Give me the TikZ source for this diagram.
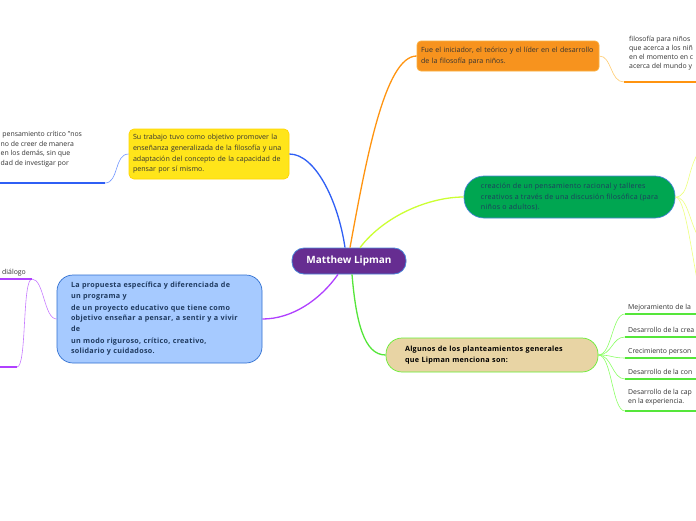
\documentclass[tikz,border=0pt]{standalone}
\usepackage{fontspec}
\setmainfont{Open Sans}
\definecolor{cpurple}{HTML}{662D91}
\definecolor{cborder}{HTML}{4A86D8}
\definecolor{orangeF}{HTML}{F7931E}
\definecolor{orangeB}{HTML}{FBB040}
\definecolor{yellowF}{HTML}{FFE51A}
\definecolor{yellowB}{HTML}{FFD500}
\definecolor{greenF}{HTML}{00A651}
\definecolor{blueF}{HTML}{A6CAFF}
\definecolor{blueB}{HTML}{2F6FD0}
\definecolor{tanF}{HTML}{E8D4A4}
\definecolor{tanB}{HTML}{66EE33}
\definecolor{cBlue}{HTML}{2F5FF5}
\definecolor{cOrange}{HTML}{FF9410}
\definecolor{cLime}{HTML}{CCFF33}
\definecolor{cGreen}{HTML}{55E63A}
\definecolor{cPurple}{HTML}{B040FF}
\definecolor{lOrange}{HTML}{FFCC70}
\definecolor{lBlue}{HTML}{6F95FF}
\definecolor{lPurple}{HTML}{C77CFF}
\definecolor{lYellow}{HTML}{EEFF80}
\definecolor{lGreen}{HTML}{8CFF66}
\definecolor{tdark}{HTML}{333333}
\definecolor{tnavy}{HTML}{1F3A5F}
\begin{document}
\begin{tikzpicture}[x=1pt,y=-1pt,
  box/.style={align=left, inner ysep=2pt, line width=0.7pt, font=\fontsize{7.1}{10.6}\selectfont, text=tdark},
  boldbox/.style={box, font=\bfseries\fontsize{7.2}{10.4}\selectfont\addfontfeature{LetterSpace=4}},
  leaf/.style={align=left, inner sep=0pt, font=\fontsize{6.9}{9}\selectfont, text=tdark},
  leaftxt/.style={anchor=base west, inner sep=0pt, font=\fontsize{6.9}{9}\selectfont, text=tdark},
  main/.style={line width=1.3pt},
  thin/.style={line width=0.6pt},
  uline/.style={line width=1.6pt}]
\clip (0,0) rectangle (696,520);
\fill[white] (0,0) rectangle (696,520);

% central
\node[fill=cpurple, draw=cborder, line width=0.8pt, rounded corners=12pt,
  minimum width=114pt, minimum height=26pt, text=white,
  font=\bfseries\fontsize{10}{11}\selectfont] (c) at (349,261) {Matthew Lipman};

% main branches
\node[box, fill=orangeF, draw=orangeB, rounded corners=4pt, minimum height=30pt,
  text width=174pt, inner xsep=4pt] (o) at (508,56)
  {Fue el iniciador, el teórico y el líder en el desarrollo\\de la filosofía para niños.};
\node[box, fill=yellowF, draw=yellowB, rounded corners=5pt, minimum height=50pt,
  text width=152pt, inner xsep=4pt] (y) at (209,154)
  {Su trabajo tuvo como objetivo promover la\\enseñanza generalizada de la filosofía y una\\adaptación del concepto de la capacidad de\\pensar por sí mismo.};
\node[box, fill=greenF, draw=cborder, rounded corners=20pt, minimum height=42pt,
  minimum width=211pt, inner xsep=4pt, text=tnavy,
  font=\fontsize{7.1}{10.2}\selectfont\addfontfeature{LetterSpace=4}] (g) at (569.5,197)
  {creación de un pensamiento racional y talleres\\creativos a través de una discusión filosófica (para\\niños o adultos).};
\node[boldbox, fill=blueF, draw=blueB, rounded corners=16pt, minimum height=88pt,
  text width=177pt, inner xsep=14pt, text=tnavy] (b) at (159.5,319)
  {La propuesta específica y diferenciada de\\un programa y\\[1.5pt]de un proyecto educativo que tiene como\\objetivo enseñar a pensar, a sentir y a vivir\\de\\[2pt]un modo riguroso, crítico, creativo,\\solidario y cuidadoso.};
\node[boldbox, fill=tanF, draw=tanB, rounded corners=16pt, minimum height=34pt,
  text width=174pt, inner xsep=19pt, text=black] (t) at (492,355)
  {Algunos de los planteamientos generales\\que Lipman menciona son:};

% connectors from the centre
\draw[main, cBlue] ([xshift=-4pt]c.north) .. controls (338,200) and (315,154) .. (y.east);
\draw[main, cOrange] ([xshift=1pt]c.north) .. controls (366,160) and (385,56) .. (o.west);
\draw[main, cLime] ([xshift=11pt]c.north) .. controls (385,215) and (430,197) .. (g.west);
\draw[main, cPurple] ([xshift=-11pt]c.south) .. controls (320,300) and (292,319) .. (b.east);
\draw[main, cGreen] ([xshift=3pt]c.south) .. controls (356,322) and (364,355) .. (t.west);

% orange leaf
\coordinate (olu) at (624,82);
\coordinate (ole) at (696,82);
\node[leaf, anchor=north west] (ol) at (629,36)
  {filosofía para niños\\que acerca a los niñ\\en el momento en c\\acerca del mundo y};
\draw[thin, lOrange] (o.east) .. controls (612,56) and (610,82) .. (olu);
\draw[uline, cOrange] (olu) -- (ole);

% yellow leaf (left)
\coordinate (ylu) at (105,183);
\coordinate (yle) at (0,183);
\node[leaf, anchor=north west, font=\fontsize{6.9}{9.6}\selectfont] (yl) at (0.5,131)
  {\ pensamiento crítico "nos\\no de creer de manera\\en los demás, sin que\\dad de investigar por};
\draw[thin, lBlue] (y.west) .. controls (114,154) and (119,183) .. (ylu);
\draw[uline, cBlue] (ylu) -- (yle);

% purple leaves (left)
\coordinate (pl1) at (32,279);
\coordinate (pl1e) at (0,279);
\coordinate (pl2) at (17,367);
\coordinate (pl2e) at (0,367);
\node[leaftxt] (pt) at (2,274) {diálogo};
\draw[thin, lPurple] (b.west) .. controls (44,319) and (44,279) .. (pl1);
\draw[thin, lPurple] (pl1) .. controls (22,279) and (27,367) .. (pl2);
\draw[uline, cPurple] (pl1) -- (pl1e);
\draw[uline, cPurple] (pl2) -- (pl2e);

% green leaves (right, cut)
\coordinate (g1) at (700,150);
\coordinate (g2) at (700,240);
\coordinate (g3) at (699,290);
\draw[thin, lYellow] (g.east) .. controls (690,197) and (686,170) .. (g1);
\draw[thin, lYellow] (g.east) .. controls (688,197) and (689,222) .. (g2);
\draw[thin, lYellow] (g.east) .. controls (685,197) and (691,250) .. (g3);

% tan leaves
\foreach \n/\yy/\txt in {1/314/{Mejoramiento de la},2/337/{Desarrollo de la crea},3/358/{Crecimiento person},4/379/{Desarrollo de la con}}{
  \coordinate (tu\n) at (625,\yy);
  \coordinate (te\n) at (696,\yy);
  \draw[thin, lGreen] (t.east) .. controls (612,355) and (612,\yy) .. (tu\n);
  \draw[uline, cGreen] (tu\n) -- (te\n);
  \node[leaftxt] (tl\n) at (628,\yy-4.5) {\txt};
}
\coordinate (tu5) at (625,411);
\coordinate (te5) at (696,411);
\draw[thin, lGreen] (t.east) .. controls (612,355) and (612,411) .. (tu5);
\draw[uline, cGreen] (tu5) -- (te5);
\node[leaf, anchor=north west, font=\fontsize{6.9}{9.5}\selectfont] (tl5) at (628,389)
  {Desarrollo de la cap\\en la experiencia.};
\end{tikzpicture}
\end{document}
